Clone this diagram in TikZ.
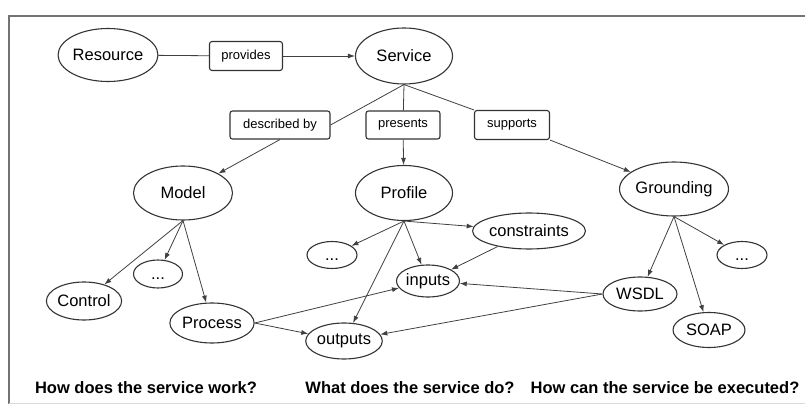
\documentclass[tikz,border=0pt]{standalone}
\usepackage{fontspec}
\setmainfont{Liberation Sans}
\usetikzlibrary{positioning}
\usetikzlibrary{shapes.geometric}
\usetikzlibrary{arrows.meta}
\tikzset{
	every node/.style = {font=\fontsize{16.5}{18}\selectfont},
	concept/.style = {ellipse, draw=black!80, line width=1.1pt, inner sep=0pt},
	relation/.style = {rectangle, rounded corners=2.5pt, draw=black!80, line width=1.1pt, inner sep=0pt, font=\fontsize{13}{15}\selectfont},
	link/.style = {black!75, line width=0.8pt},
	arc/.style = {link, -{Latex[length=7pt,width=5pt]}},
	question/.style = {font=\bfseries\fontsize{16.5}{18}\selectfont}
}
\newcommand{\moredots}{\raisebox{-5pt}[0pt][0pt]{...}}

\begin{document}
\begin{tikzpicture}[x=1pt, y=-1pt]
		\useasboundingbox (0,0) rectangle (805,406);
		% frame
		\draw[black!55, line width=1.5pt] (805,16) -- (9,16) -- (9,404);
		\draw[black!15, line width=1pt] (9,403) -- (805,403);

		% depth 0
		\node[concept, minimum width=90pt, minimum height=53pt] (resource) at (108,55) {Resource};
		\node[relation, minimum width=73pt, minimum height=29pt] (provides) at (246,56) {provides};
		\node[concept, minimum width=97pt, minimum height=56pt] (service) at (404,56) {Service};
		\node[relation, minimum width=100pt, minimum height=28pt] (dby) at (280,125) {described by};
		\node[relation, minimum width=74pt, minimum height=28pt] (presents) at (403,125) {presents};
		\node[relation, minimum width=75pt, minimum height=29pt] (supports) at (512,125) {supports};
		% depth 1
		\node[concept, minimum width=99pt, minimum height=54pt] (model) at (183,193) {Model};
		\node[concept, minimum width=97pt, minimum height=55pt] (profile) at (404,193) {Profile};
		\node[concept, minimum width=98pt, minimum height=54pt] (grounding) at (674,189) {Grounding};
		% depth 2
		\node[concept, minimum width=49pt, minimum height=28pt] (mdots) at (158,274) {\moredots};
		\node[concept, minimum width=72pt, minimum height=38pt] (control) at (84,301) {Control};
		\node[concept, minimum width=73pt, minimum height=40pt] (process) at (212,323) {Process};
		\node[concept, minimum width=50pt, minimum height=27pt] (pdots) at (332,255) {\moredots};
		\node[concept, minimum width=63pt, minimum height=32pt] (inputs) at (428,281) {inputs};
		\node[concept, minimum width=62pt, minimum height=36pt] (outputs) at (344,341) {outputs};
		\node[concept, minimum width=98pt, minimum height=36pt] (constraints) at (529,231) {constraints};
		\node[concept, minimum width=74pt, minimum height=34pt] (wsdl) at (640,294) {WSDL};
		\node[concept, minimum width=50pt, minimum height=27pt] (gdots) at (742,255) {\moredots};
		\node[concept, minimum width=72pt, minimum height=35pt] (soap) at (709,330) {SOAP};

		% relations
		\draw[link] (resource) -- (provides);
		\draw[arc] (provides) -- (service);
		\draw[link] (service.south) -- (dby.east);
		\draw[arc] (dby.south) -- (model);
		\draw[link] (service.south) -- (presents);
		\draw[arc] (presents) -- (profile);
		\draw[link] (service.south) -- (supports.north west);
		\draw[arc] (supports.south east) -- (grounding);

		% children
		\foreach \n in {control, mdots, process}
			\draw[arc] (model.south) -- (\n);
		\foreach \n in {pdots, inputs, outputs, constraints}
			\draw[arc] (profile.south) -- (\n);
		\foreach \n in {wsdl, soap, gdots}
			\draw[arc] (grounding.south) -- (\n);
		\draw[arc] (constraints) -- (inputs);
		\foreach \n in {inputs, outputs} {
			\draw[arc] (process.east) -- (\n);
			\draw[arc] (wsdl.west) -- (\n);
		}

		\node[question] (qmodel) at (146,388) {How does the service work?};
		\node[question] (qprofile) at (410,388) {What does the service do?};
		\node[question] (qground) at (665,388) {How can the service be executed?};
	\end{tikzpicture}
\end{document}
